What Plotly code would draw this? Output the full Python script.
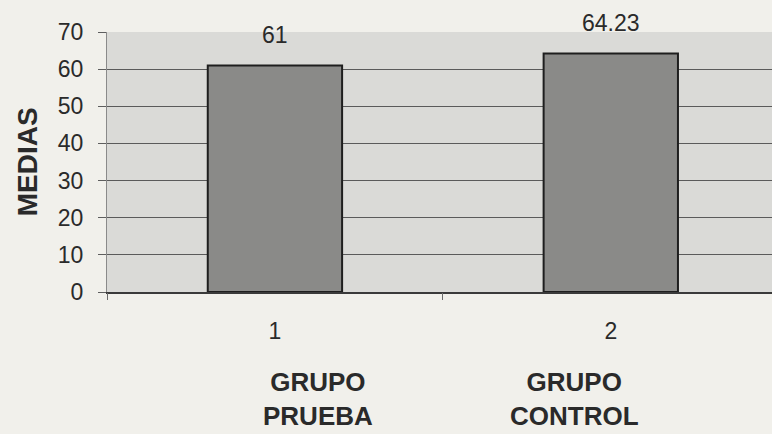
import plotly.graph_objects as go

categories = ["1", "2"]
group_names = ["GRUPO<br>PRUEBA", "GRUPO<br>CONTROL"]
means = [61, 64.23]
value_labels = ["61", "64.23"]
y_ticks = [0, 10, 20, 30, 40, 50, 60, 70]

FONT = "Liberation Sans, Arial, sans-serif"
xpos = [0, 1]

fig = go.Figure()
fig.add_trace(go.Bar(
    x=xpos, y=means, width=0.4,
    marker=dict(color="#8a8a88", line=dict(color="#1e1e1e", width=2)),
    showlegend=False, hoverinfo="skip",
))
# invisible trace on second x axis (category-boundary ticks)
fig.add_trace(go.Scatter(x=[0], y=[0], xaxis="x2", mode="markers",
                         marker=dict(opacity=0), showlegend=False, hoverinfo="skip"))

for xv, lbl, v in zip(xpos, value_labels, means):
    fig.add_annotation(x=xv, y=v, text=lbl, showarrow=False, yanchor="bottom",
                       yshift=15, font=dict(family=FONT, size=23, color="#2a2a2a"))

for xv, name in zip([0.128, 0.893], group_names):
    fig.add_annotation(x=xv, xref="x", y=-0.41, yref="paper", text=name, showarrow=False,
                       xanchor="center", yanchor="middle",
                       font=dict(family=FONT, size=26, color="#2a2a2a", weight="bold"))

fig.add_annotation(x=-0.12, xref="paper", y=0.5, yref="paper", text="MEDIAS",
                   textangle=-90, showarrow=False, xanchor="center", yanchor="middle",
                   font=dict(family=FONT, size=28, color="#2a2a2a", weight="bold"))

fig.update_layout(
    width=772, height=434,
    margin=dict(l=107, r=0, t=32, b=142),
    paper_bgcolor="#f1f0eb",
    plot_bgcolor="#dadad7",
    xaxis=dict(range=[-0.5, 1.48], tickvals=xpos, ticktext=categories,
               showgrid=False, zeroline=False, showline=True, linecolor="#3a3a3a",
               linewidth=1.5, ticks="", ticklabelstandoff=18,
               tickfont=dict(family=FONT, size=23, color="#2a2a2a")),
    xaxis2=dict(range=[-0.5, 1.48], overlaying="x", side="bottom", tickvals=[-0.5, 0.5],
                ticks="outside", ticklen=7, tickcolor="#6a6a6a", showticklabels=False,
                showgrid=False, zeroline=False, showline=False),
    yaxis=dict(range=[0, 70], tickvals=y_ticks, showgrid=True, gridcolor="#5a5a5a",
               gridwidth=1, zeroline=False, showline=True, linecolor="#8a8a8a",
               ticks="outside", ticklen=8, tickcolor="#5e5e5e", ticklabelstandoff=10,
               tickfont=dict(family=FONT, size=23, color="#2a2a2a")),
    bargap=0.6,
)

fig.write_html("out.html", config={"displayModeBar": False},
               post_script="document.body.style.margin='0';document.body.style.overflow='hidden';")
